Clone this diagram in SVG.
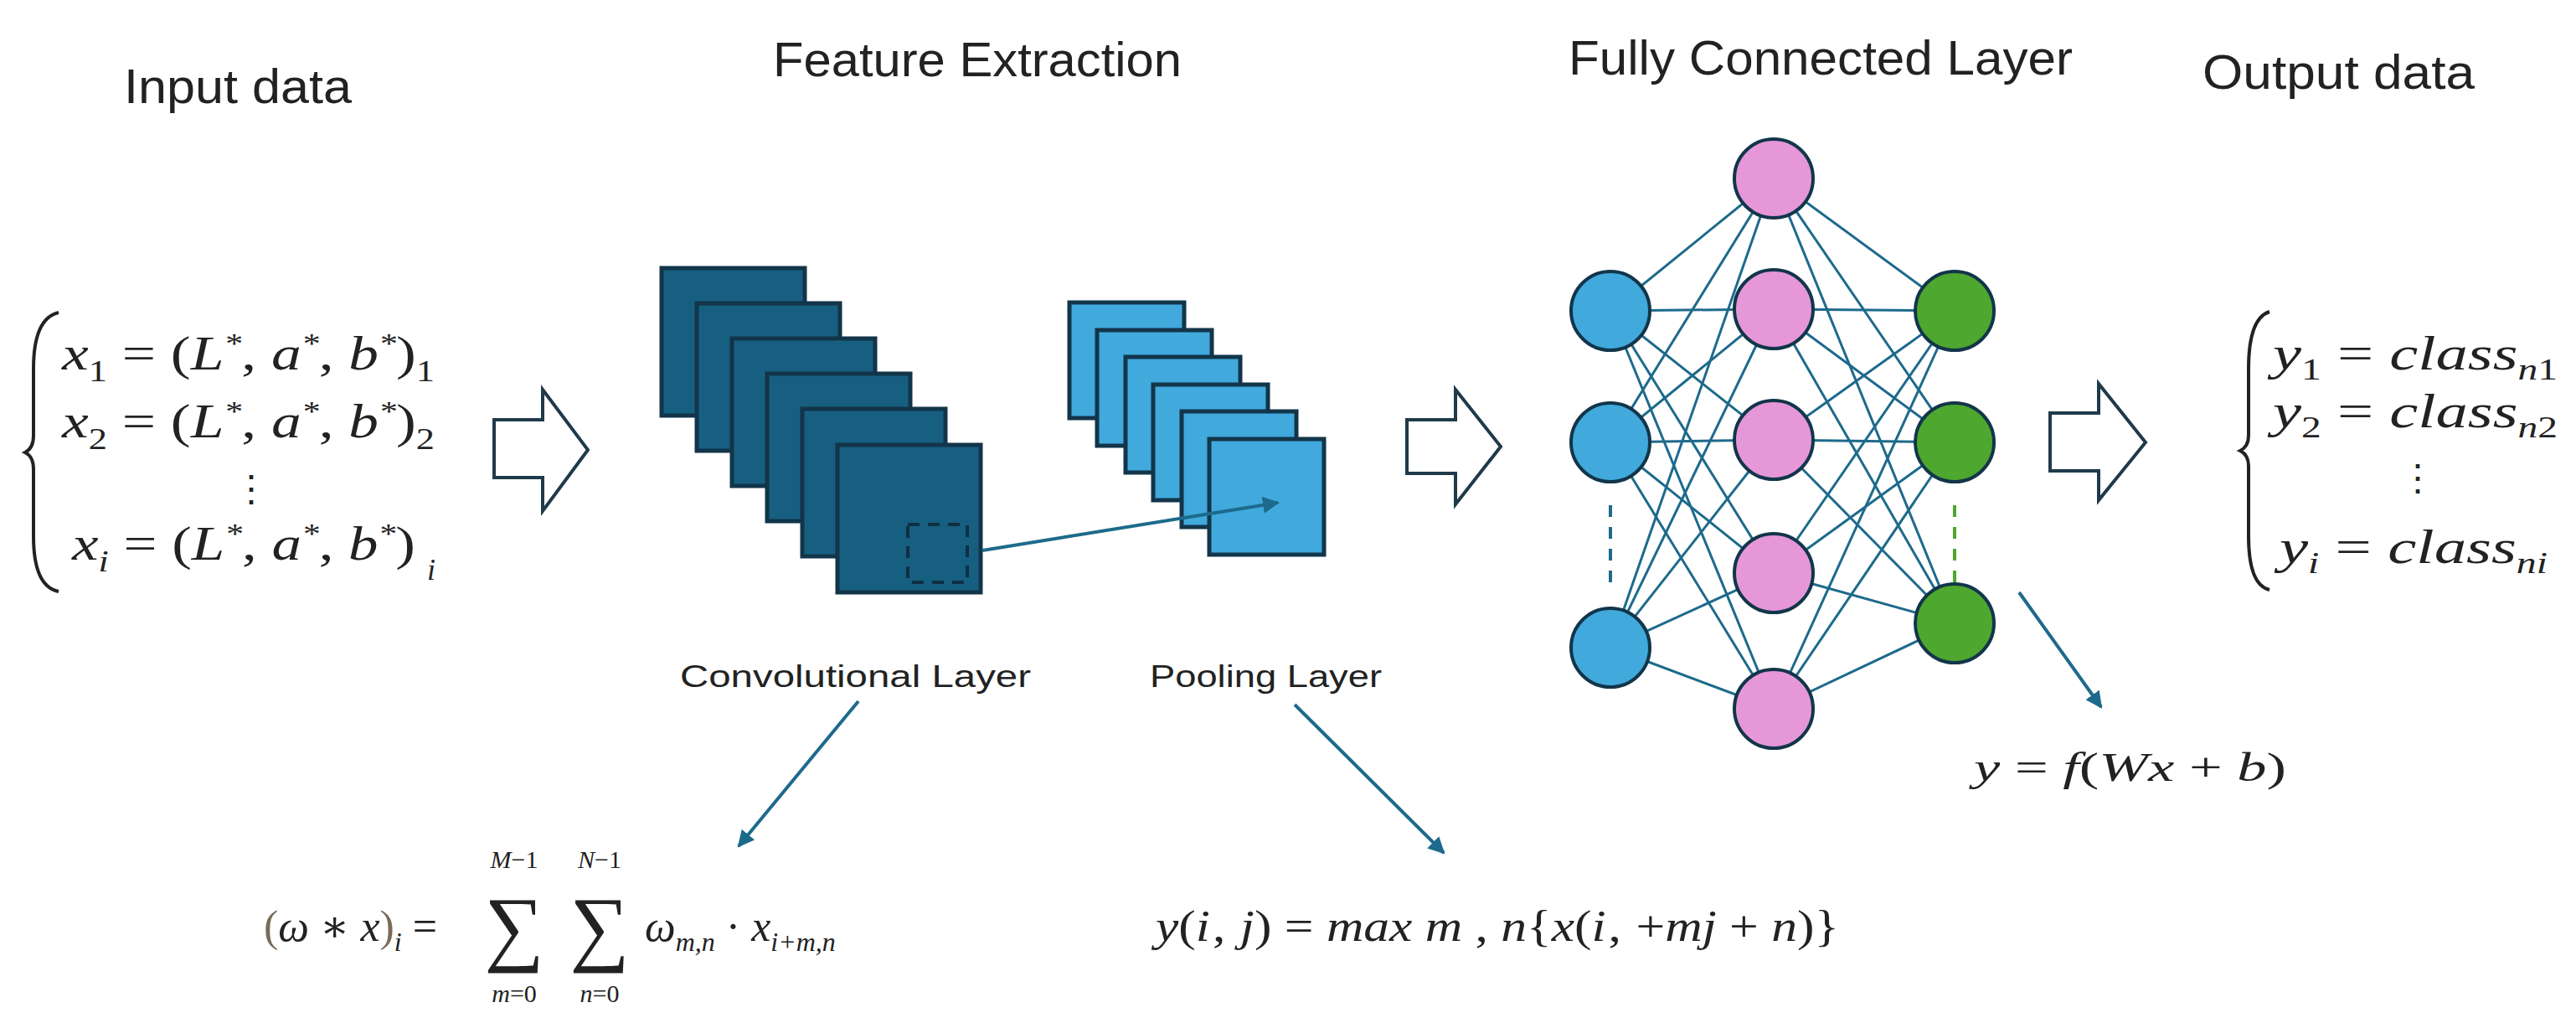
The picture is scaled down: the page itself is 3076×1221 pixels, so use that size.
<svg xmlns="http://www.w3.org/2000/svg" width="3076" height="1221" viewBox="0 0 3076 1221">
<style>
.t{font-family:"Liberation Sans",Arial,sans-serif;fill:#222}
.m{font-family:"Liberation Serif","DejaVu Serif",serif;font-style:italic;fill:#222}
.mr{font-family:"Liberation Serif","DejaVu Serif",serif;fill:#222}
.conv{fill:#175f80;stroke:#12354a;stroke-width:5}
.pool{fill:#41a9dc;stroke:#12354a;stroke-width:5}
.big{fill:#fff;stroke:#1f3a4a;stroke-width:4}
.e{stroke:#1d6a8c;stroke-width:3}
.nb{fill:#41a9dc;stroke:#12354a;stroke-width:4}
.np{fill:#e597d8;stroke:#12354a;stroke-width:4}
.ng{fill:#4ea72e;stroke:#12354a;stroke-width:4}
.ar{stroke:#1d6a8c;stroke-width:4;fill:none;marker-end:url(#ah)}
</style>
<defs>
<marker id="ah" viewBox="0 0 10 10" refX="9" refY="5" markerWidth="5" markerHeight="5" orient="auto"><path d="M0,0L10,5L0,10z" fill="#1d6a8c"/></marker>
</defs>
<rect width="3076" height="1221" fill="#fff"/>
<g id="titles">
<text class="t" x="148" y="123" font-size="57" textLength="272" lengthAdjust="spacingAndGlyphs">Input data</text>
<text class="t" x="923" y="91" font-size="57" textLength="488" lengthAdjust="spacingAndGlyphs">Feature Extraction</text>
<text class="t" x="1873" y="89" font-size="57" textLength="602" lengthAdjust="spacingAndGlyphs">Fully Connected Layer</text>
<text class="t" x="2630" y="106" font-size="57" textLength="325" lengthAdjust="spacingAndGlyphs">Output data</text>
</g>
<g id="input">
<path d="M70,373 Q40,380 40,440 L40,520 Q40,535 30,540 Q40,545 40,560 L40,640 Q40,700 70,706" fill="none" stroke="#222" stroke-width="4"/>
<text class="m" x="74" y="441" font-size="58" textLength="445" lengthAdjust="spacingAndGlyphs">x<tspan font-size="36" dy="14" font-style="normal">1</tspan><tspan dy="-14" font-style="normal"> = (</tspan>L<tspan font-size="34" dy="-20">*</tspan><tspan dy="20" font-style="normal">, </tspan>a<tspan font-size="34" dy="-20">*</tspan><tspan dy="20" font-style="normal">, </tspan>b<tspan font-size="34" dy="-20">*</tspan><tspan dy="20" font-style="normal">)</tspan><tspan font-size="36" dy="14" font-style="normal">1</tspan></text>
<text class="m" x="74" y="522" font-size="58" textLength="445" lengthAdjust="spacingAndGlyphs">x<tspan font-size="36" dy="14" font-style="normal">2</tspan><tspan dy="-14" font-style="normal"> = (</tspan>L<tspan font-size="34" dy="-20">*</tspan><tspan dy="20" font-style="normal">, </tspan>a<tspan font-size="34" dy="-20">*</tspan><tspan dy="20" font-style="normal">, </tspan>b<tspan font-size="34" dy="-20">*</tspan><tspan dy="20" font-style="normal">)</tspan><tspan font-size="36" dy="14" font-style="normal">2</tspan></text>
<text class="mr" x="300" y="598" font-size="44" text-anchor="middle">⋮</text>
<text class="m" x="86" y="668" font-size="58" textLength="410" lengthAdjust="spacingAndGlyphs">x<tspan font-size="36" dy="14">i</tspan><tspan dy="-14" font-style="normal"> = (</tspan>L<tspan font-size="34" dy="-20">*</tspan><tspan dy="20" font-style="normal">, </tspan>a<tspan font-size="34" dy="-20">*</tspan><tspan dy="20" font-style="normal">, </tspan>b<tspan font-size="34" dy="-20">*</tspan><tspan dy="20" font-style="normal">)</tspan></text>
<text class="m" x="510" y="692" font-size="36">i</text>
</g>
<g id="arrow-in"><path class="big" d="M590,501 L648,501 L648,465 L702,537 L648,610 L648,570 L590,570 Z"/></g>
<g id="conv-layer">
<rect class="conv" x="790" y="320" width="171" height="176"/>
<rect class="conv" x="832" y="362" width="171" height="176"/>
<rect class="conv" x="874" y="404" width="171" height="176"/>
<rect class="conv" x="916" y="446" width="171" height="176"/>
<rect class="conv" x="958" y="488" width="171" height="176"/>
<rect class="conv" x="1000" y="531" width="171" height="176"/>
<rect x="1084" y="626" width="71" height="69" fill="none" stroke="#0f2f44" stroke-width="4" stroke-dasharray="14,10"/>
<text class="t" x="812" y="820" font-size="36" textLength="419" lengthAdjust="spacingAndGlyphs">Convolutional Layer</text>
</g>
<g id="pool-layer">
<rect class="pool" x="1277" y="361" width="137" height="138"/>
<rect class="pool" x="1310" y="394" width="137" height="138"/>
<rect class="pool" x="1344" y="426" width="137" height="138"/>
<rect class="pool" x="1377" y="459" width="137" height="138"/>
<rect class="pool" x="1411" y="491" width="137" height="138"/>
<rect class="pool" x="1444" y="524" width="137" height="138"/>
<text class="t" x="1373" y="820" font-size="36" textLength="277" lengthAdjust="spacingAndGlyphs">Pooling Layer</text>
</g>
<g id="arrow-mid"><path class="big" d="M1680,501 L1738,501 L1738,465 L1792,533 L1738,602 L1738,565 L1680,565 Z"/></g>
<g id="connectors">
<line class="ar" x1="1173" y1="657" x2="1526" y2="600"/>
<line class="ar" x1="1025" y1="837" x2="882" y2="1010"/>
<line class="ar" x1="1546" y1="841" x2="1724" y2="1018"/>
<line class="ar" x1="2411" y1="707" x2="2509" y2="844"/>
<g class="e">
<line x1="1923" y1="371" x2="2118" y2="213"/><line x1="1923" y1="371" x2="2118" y2="369"/><line x1="1923" y1="371" x2="2118" y2="525"/><line x1="1923" y1="371" x2="2118" y2="684"/><line x1="1923" y1="371" x2="2118" y2="846"/>
<line x1="1923" y1="528" x2="2118" y2="213"/><line x1="1923" y1="528" x2="2118" y2="369"/><line x1="1923" y1="528" x2="2118" y2="525"/><line x1="1923" y1="528" x2="2118" y2="684"/><line x1="1923" y1="528" x2="2118" y2="846"/>
<line x1="1923" y1="773" x2="2118" y2="213"/><line x1="1923" y1="773" x2="2118" y2="369"/><line x1="1923" y1="773" x2="2118" y2="525"/><line x1="1923" y1="773" x2="2118" y2="684"/><line x1="1923" y1="773" x2="2118" y2="846"/>
<line x1="2334" y1="371" x2="2118" y2="213"/><line x1="2334" y1="371" x2="2118" y2="369"/><line x1="2334" y1="371" x2="2118" y2="525"/><line x1="2334" y1="371" x2="2118" y2="684"/><line x1="2334" y1="371" x2="2118" y2="846"/>
<line x1="2334" y1="528" x2="2118" y2="213"/><line x1="2334" y1="528" x2="2118" y2="369"/><line x1="2334" y1="528" x2="2118" y2="525"/><line x1="2334" y1="528" x2="2118" y2="684"/><line x1="2334" y1="528" x2="2118" y2="846"/>
<line x1="2334" y1="744" x2="2118" y2="213"/><line x1="2334" y1="744" x2="2118" y2="369"/><line x1="2334" y1="744" x2="2118" y2="525"/><line x1="2334" y1="744" x2="2118" y2="684"/><line x1="2334" y1="744" x2="2118" y2="846"/>
</g>
<line x1="1923" y1="603" x2="1923" y2="698" stroke="#1d6a8c" stroke-width="4" stroke-dasharray="14,12"/>
<line x1="2334" y1="603" x2="2334" y2="698" stroke="#4ea72e" stroke-width="4" stroke-dasharray="14,12"/>
</g>
<g id="fc-layer">
<circle class="nb" cx="1923" cy="371" r="47"/><circle class="nb" cx="1923" cy="528" r="47"/><circle class="nb" cx="1923" cy="773" r="47"/>
<circle class="np" cx="2118" cy="213" r="47"/><circle class="np" cx="2118" cy="369" r="47"/><circle class="np" cx="2118" cy="525" r="47"/><circle class="np" cx="2118" cy="684" r="47"/><circle class="np" cx="2118" cy="846" r="47"/>
<circle class="ng" cx="2334" cy="371" r="47"/><circle class="ng" cx="2334" cy="528" r="47"/><circle class="ng" cx="2334" cy="744" r="47"/>
</g>
<g id="arrow-out"><path class="big" d="M2448,493 L2506,493 L2506,458 L2562,528 L2506,597 L2506,562 L2448,562 Z"/></g>
<g id="output">
<path d="M2710,372 Q2685,380 2685,440 L2685,520 Q2685,533 2675,538 Q2685,543 2685,556 L2685,640 Q2685,698 2710,704" fill="none" stroke="#222" stroke-width="4"/>
<text class="m" x="2714" y="441" font-size="58" textLength="340" lengthAdjust="spacingAndGlyphs">y<tspan font-size="36" dy="12" font-style="normal">1</tspan><tspan dy="-12" font-style="normal"> = </tspan>class<tspan font-size="36" dy="12">n</tspan><tspan font-size="36" font-style="normal">1</tspan></text>
<text class="m" x="2714" y="510" font-size="58" textLength="340" lengthAdjust="spacingAndGlyphs">y<tspan font-size="36" dy="12" font-style="normal">2</tspan><tspan dy="-12" font-style="normal"> = </tspan>class<tspan font-size="36" dy="12">n</tspan><tspan font-size="36" font-style="normal">2</tspan></text>
<text class="mr" x="2887" y="585" font-size="44" text-anchor="middle">⋮</text>
<text class="m" x="2722" y="672" font-size="58" textLength="320" lengthAdjust="spacingAndGlyphs">y<tspan font-size="36" dy="12">i</tspan><tspan dy="-12" font-style="normal"> = </tspan>class<tspan font-size="36" dy="12">ni</tspan></text>
<text class="m" x="2357" y="932" font-size="48" textLength="373" lengthAdjust="spacingAndGlyphs">y<tspan font-style="normal"> = </tspan>f<tspan font-style="normal">(</tspan>Wx<tspan font-style="normal"> + </tspan>b<tspan font-style="normal">)</tspan></text>
</g>
<g id="formulas">
<text class="m" x="315" y="1123" font-size="52"><tspan font-style="normal" fill="#7a6a5a">(</tspan>ω ∗ x<tspan font-style="normal" fill="#7a6a5a">)</tspan><tspan font-size="32" dy="12">i</tspan><tspan dy="-12" font-style="normal"> =</tspan></text>
<text class="mr" x="614" y="1140" font-size="100" text-anchor="middle">∑</text>
<text class="mr" x="716" y="1140" font-size="100" text-anchor="middle">∑</text>
<text class="m" x="614" y="1036" font-size="30" text-anchor="middle">M<tspan font-style="normal">−1</tspan></text>
<text class="m" x="716" y="1036" font-size="30" text-anchor="middle">N<tspan font-style="normal">−1</tspan></text>
<text class="m" x="614" y="1196" font-size="30" text-anchor="middle">m<tspan font-style="normal">=0</tspan></text>
<text class="m" x="716" y="1196" font-size="30" text-anchor="middle">n<tspan font-style="normal">=0</tspan></text>
<text class="m" x="770" y="1123" font-size="52">ω<tspan font-size="32" dy="12">m,n</tspan><tspan dy="-12" font-style="normal"> · </tspan>x<tspan font-size="32" dy="12">i+m,n</tspan></text>
<text class="m" x="1380" y="1123" font-size="52" textLength="816" lengthAdjust="spacingAndGlyphs">y<tspan font-style="normal">(</tspan>i<tspan font-style="normal">‚ </tspan>j<tspan font-style="normal">) = </tspan>max m<tspan font-style="normal"> , </tspan>n<tspan font-style="normal">{</tspan>x<tspan font-style="normal">(</tspan>i<tspan font-style="normal">‚ +</tspan>mj<tspan font-style="normal"> + </tspan>n<tspan font-style="normal">)}</tspan></text>
</g>
</svg>
